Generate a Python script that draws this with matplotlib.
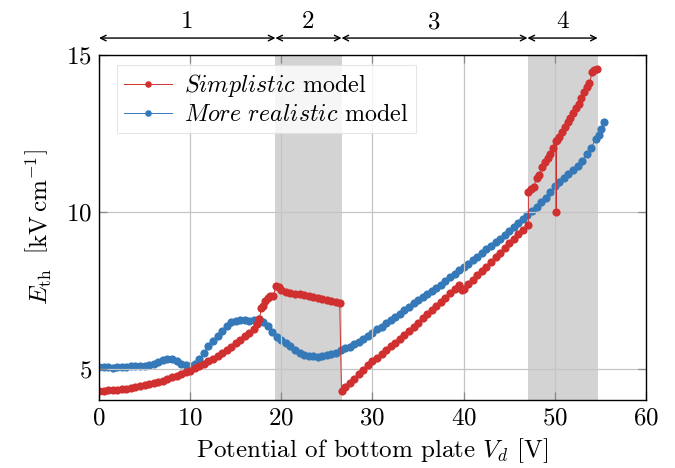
import matplotlib
matplotlib.use("Agg")
import matplotlib.pyplot as plt

plt.rcParams['font.family'] = 'serif'
plt.rcParams['font.serif'] = ['cmr10']
plt.rcParams['mathtext.fontset'] = 'cm'
plt.rcParams['axes.unicode_minus'] = False
plt.rcParams['axes.formatter.use_mathtext'] = True

# ---------------- data ----------------
red_x = [0, 0.5, 1, 1.5, 2, 2.5, 3, 3.5, 4, 4.5, 5, 5.5, 6, 6.5, 7, 7.5, 8, 8.5, 9, 9.5,
         10, 10.5, 11, 11.5, 12, 12.5, 13, 13.5, 14, 14.5, 15, 15.5, 16, 16.5, 17, 17.3, 17.6,
         17.8, 18.0, 18.2, 18.5, 18.8, 19.1, 19.4, 19.7, 20, 20.5, 21, 21.5, 22, 22.5, 23, 23.5,
         24, 24.5, 25, 25.5, 26, 26.4,
         26.6, 27, 27.5, 28, 28.5, 29, 29.5, 30, 30.5, 31, 31.5, 32, 32.5, 33, 33.5, 34, 34.5,
         35, 35.5, 36, 36.5, 37, 37.5, 38, 38.5, 39, 39.5, 39.8, 40, 40.5, 41, 41.5, 42, 42.5,
         43, 43.5, 44, 44.5, 45, 45.5, 46, 46.5, 47.1,
         47.1, 47.4, 47.7, 48.0, 48.3, 48.6, 48.9, 49.2, 49.5, 49.8, 50.1, 50.15, 50.2, 50.5,
         50.8, 51.1, 51.4, 51.7, 52.0, 52.3, 52.6, 52.9, 53.2, 53.5, 53.8, 54.1, 54.3, 54.6]
red_y = [4.30, 4.30, 4.31, 4.32, 4.33, 4.34, 4.36, 4.38, 4.41, 4.44, 4.47, 4.50, 4.54, 4.58,
         4.62, 4.67, 4.72, 4.77, 4.82, 4.88, 4.94, 5.01, 5.08, 5.15, 5.23, 5.31, 5.40, 5.50,
         5.60, 5.70, 5.81, 5.92, 6.03, 6.13, 6.25, 6.42, 6.58,
         6.92, 7.00, 7.15, 7.25, 7.33, 7.30, 7.62, 7.60, 7.52, 7.45, 7.41, 7.39, 7.37, 7.34,
         7.31, 7.28, 7.25, 7.22, 7.19, 7.16, 7.12, 7.09,
         4.30, 4.40, 4.54, 4.68, 4.82, 4.96, 5.10, 5.23, 5.35, 5.47, 5.59, 5.71, 5.83, 5.95,
         6.08, 6.20, 6.33, 6.46, 6.60, 6.74, 6.87, 7.00, 7.13, 7.26, 7.40, 7.54, 7.68, 7.50,
         7.55, 7.69, 7.83, 7.97, 8.11, 8.25, 8.40, 8.55, 8.70, 8.86, 9.00, 9.14, 9.28, 9.42,
         9.57,
         10.62, 10.72, 10.80, 11.08, 11.18, 11.42, 11.58, 11.70, 11.85, 12.05, 12.25, 10.00,
         12.28, 12.40, 12.55, 12.70, 12.85, 13.00, 13.15, 13.30, 13.45, 13.62, 13.82, 13.98,
         14.10, 14.45, 14.52, 14.55]

blue_x = [0, 0.5, 1, 1.5, 2, 2.5, 3, 3.5, 4, 4.5, 5, 5.5, 6, 6.5, 7, 7.5, 8, 8.5, 9, 9.5,
          10, 10.5, 11, 11.5, 12, 12.5, 13, 13.5, 14, 14.5, 15, 15.5, 16, 16.5, 17, 17.5,
          18, 18.5, 19, 19.5, 20, 20.5, 21, 21.5, 22, 22.5, 23, 23.5, 24, 24.5, 25, 25.5,
          26, 26.5, 27, 27.5, 28, 28.5, 29, 29.5, 30, 30.5, 31, 31.5, 32, 32.5, 33, 33.5,
          34, 34.5, 35, 35.5, 36, 36.5, 37, 37.5, 38, 38.5, 39, 39.5, 40, 40.5, 41, 41.5,
          42, 42.5, 43, 43.5, 44, 44.5, 45, 45.5, 46, 46.5, 47, 47.5, 48, 48.5, 49, 49.5,
          50, 50.5, 51, 51.5, 52, 52.5, 53, 53.5, 54, 54.5, 54.8, 55.1, 55.4]
blue_y = [5.05, 5.04, 5.05, 5.03, 5.06, 5.05, 5.04, 5.07, 5.08, 5.08, 5.09, 5.12, 5.15,
          5.20, 5.27, 5.30, 5.31, 5.23, 5.15, 5.10, 5.08, 5.15, 5.30, 5.50, 5.72, 5.88,
          6.05, 6.20, 6.35, 6.48, 6.53, 6.55, 6.54, 6.52, 6.56, 6.58,
          6.50, 6.35, 6.18, 6.02, 5.92, 5.82, 5.72, 5.60, 5.50, 5.45, 5.41, 5.39, 5.38,
          5.41, 5.44, 5.47, 5.50, 5.58, 5.65, 5.70, 5.77, 5.84, 5.93, 6.05, 6.15, 6.25,
          6.33, 6.45, 6.55, 6.65, 6.75, 6.88, 6.98, 7.08, 7.18, 7.27, 7.37, 7.47, 7.58,
          7.68, 7.80, 7.92, 8.02, 8.14, 8.24, 8.35, 8.46, 8.57, 8.68, 8.80, 8.92, 9.03,
          9.14, 9.25, 9.38, 9.50, 9.63, 9.78, 9.90, 10.02, 10.15, 10.30, 10.45, 10.62,
          10.82, 10.95, 11.08, 11.20, 11.32, 11.47, 11.62, 11.85, 12.05, 12.32, 12.45,
          12.63, 12.87]

shaded_regions = [(19.35, 26.6), (47.1, 54.7)]
region_bounds = [0, 19.35, 26.6, 47.0, 54.7]
region_labels = ['1', '2', '3', '4']

red_color = '#d03030'
blue_color = '#3579b9'

FS = 18

# ---------------- plot ----------------
fig = plt.figure(figsize=(6.75, 4.68), dpi=100)
ax = fig.add_axes([0.1467, 0.1453, 0.8103, 0.7372])

for a, b in shaded_regions:
    ax.axvspan(a, b, color='#d3d3d3', lw=0, zorder=0)

ax.plot(red_x, red_y, '-o', color=red_color, lw=0.7, ms=5.9, mew=0,
        label=r'$\mathit{Simplistic}$ model', zorder=3)
ax.plot(blue_x, blue_y, '-o', color=blue_color, lw=0.7, ms=5.9, mew=0,
        label=r'$\mathit{More\ realistic}$ model', zorder=2)

ax.set_xlim(0, 60)
ax.set_ylim(4, 15)
ax.set_xticks([0, 10, 20, 30, 40, 50, 60])
ax.set_yticks([5, 10, 15])
ax.grid(True, color='#c4c4c4', lw=0.9, zorder=1)
ax.set_axisbelow(False)
ax.tick_params(direction='in', length=6, color='#888888', top=True, right=True,
               labelsize=FS, width=0.9, pad=5)
for s in ax.spines.values():
    s.set_linewidth(1.0)
    s.set_zorder(5)

ax.set_xlabel(r'Potential of bottom plate $V_d$ [V]', fontsize=FS, labelpad=5)
ax.set_ylabel(r'$E_{\mathrm{th}}\ \ \left[\mathrm{kV\,cm^{-1}}\right]$', fontsize=FS,
              labelpad=9)

leg = ax.legend(loc='upper left', fontsize=17.3, frameon=True, fancybox=False,
                framealpha=0.8, edgecolor='#e0e0e0', borderpad=0.3,
                borderaxespad=0, handlelength=2.0, handletextpad=0.5,
                labelspacing=0.2, markerscale=0.8, bbox_to_anchor=(0.033, 0.971))
leg.get_frame().set_linewidth(0.8)

# region arrows above the axes
y_arrow = 15.54
y_text = 16.05
for i in range(4):
    x0, x1 = region_bounds[i], region_bounds[i + 1]
    ax.annotate('', xy=(x0, y_arrow), xytext=(x1, y_arrow),
                arrowprops=dict(arrowstyle='<->', lw=1.0, color='black',
                                shrinkA=0, shrinkB=0, mutation_scale=10),
                annotation_clip=False)
    ax.text((x0 + x1) / 2, y_text, region_labels[i], ha='center', va='center',
            fontsize=FS, clip_on=False)

fig.savefig('out.png', dpi=100)
